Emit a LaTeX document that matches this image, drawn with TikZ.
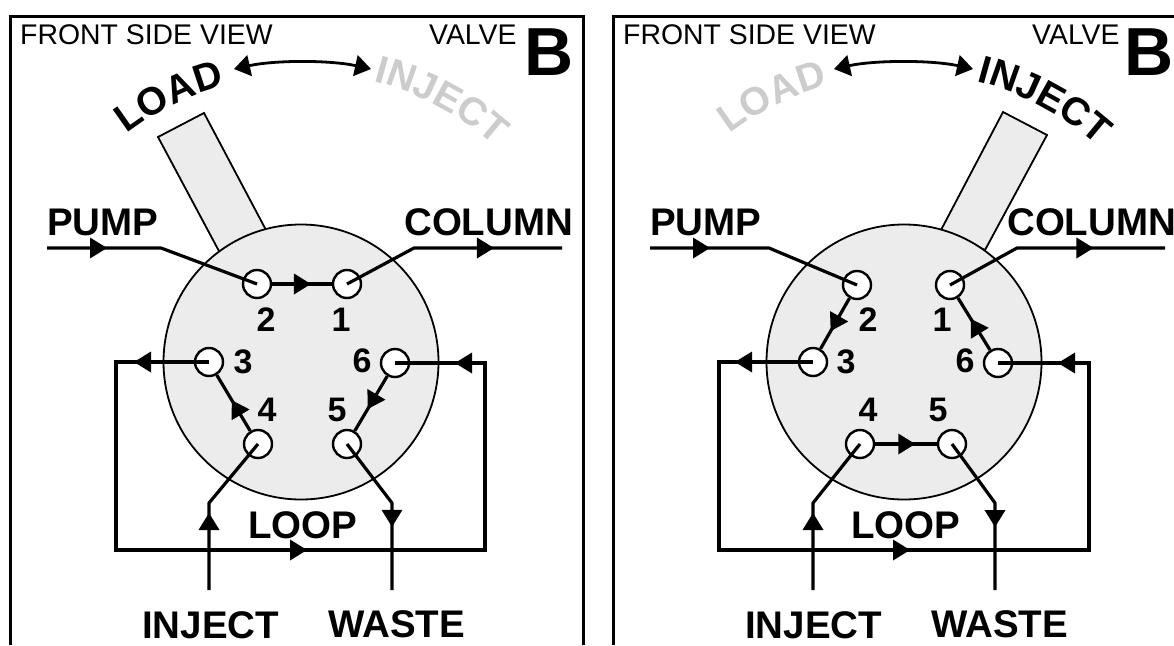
\documentclass[tikz,border=0pt]{standalone}
\usepackage{fontspec}
\setmainfont{Liberation Sans}
\usetikzlibrary{arrows.meta,decorations.markings,decorations.text}
\definecolor{valvefill}{HTML}{ECECEC}
\definecolor{ghost}{HTML}{CCCCCC}
\newcommand{\fsz}[1]{\fontsize{#1}{#1}\selectfont}
\tikzset{
  x=1pt,y=-1pt,
  frameline/.style={draw=black,line width=3pt,line join=miter},
  body/.style={draw=black,fill=valvefill,line width=1.8pt},
  port/.style={circle,draw=black,fill=white,line width=2.4pt,minimum size=28pt,inner sep=0pt},
  wire/.style={draw=black,line width=3.2pt,line join=round},
  flowtip/.style={postaction={decorate,decoration={markings,mark=at position #1 with {\arrow[line width=0pt]{Triangle[length=17pt,width=21pt]}}}}},
  swing/.style={draw=black,line width=2.8pt,{Triangle[length=16pt,width=21pt]}-{Triangle[length=16pt,width=21pt]}},
  thin label/.style={anchor=base west,inner sep=0pt,font=\fsz{28.4}},
  big label/.style={anchor=base west,inner sep=0pt,font=\fsz{38.5}\bfseries},
  letter/.style={anchor=base west,inner sep=0pt,font=\fsz{68}\bfseries},
  digit/.style={anchor=base,inner sep=0pt,font=\fsz{34}\bfseries},
}
\begin{document}
\begin{tikzpicture}
\useasboundingbox (0,0) rectangle (1174,645);
\fill[white] (0,0) rectangle (1174,645);
% ---------- left panel ----------
\coordinate (fa1) at (10,645); \coordinate (fa2) at (10,16); \coordinate (fa3) at (583,16); \coordinate (fa4) at (583,645);
\draw[frameline] (fa1) -- (fa2) -- (fa3) -- (fa4);
\node[thin label] (lfront) at (20,44) {FRONT SIDE VIEW};
\node[thin label] (lvalve) at (429,44) {VALVE};
\node[letter] (lb) at (524,75) {B};
\draw[body] (158,137) -- (204,113) -- (266,230) -- (220,253) -- cycle;
\node[circle,draw=black,fill=valvefill,line width=1.8pt,minimum size=275pt,inner sep=0pt] (lbody) at (301,362) {};
\coordinate (lc) at (301,362);
\path[decorate,decoration={text along path,text align=center,text={|\fsz{39}\bfseries|LOAD}}]
  (lc) ++(128.4:287pt) arc[start angle=128.4,end angle=104.4,radius=287pt];
\path[decorate,decoration={text along path,text align=center,text={|\fsz{39}\bfseries\color{ghost}|INJECT}}]
  (lc) ++(76:290pt) arc[start angle=76,end angle=47.5,radius=290pt];
\coordinate (lsa) at (234,69); \coordinate (lsb) at (371,69);
\draw[swing] (lsa) .. controls (275,60) and (330,60) .. (lsb);
\node[port] (l2) at (257,284) {}; \node[port] (l1) at (347,284) {};
\node[port] (l3) at (209,362) {}; \node[port] (l6) at (395,363) {};
\node[port] (l4) at (258,444) {}; \node[port] (l5) at (347,444) {};
\coordinate (lpa) at (47,248); \coordinate (lpb) at (161,248);
\draw[wire,flowtip=60pt] (lpa) -- (lpb) -- (l2.center);
\coordinate (lca) at (414,248); \coordinate (lcb) at (562,248);
\draw[wire,flowtip=156pt] (l1.center) -- (lca) -- (lcb);
\draw[wire,flowtip=0.65] (l2) -- (l1);
\coordinate (ll1) at (485,363); \coordinate (ll2) at (485,550); \coordinate (ll3) at (116,550); \coordinate (ll4) at (116,362);
\draw[wire,line join=miter,flowtip/.list={75pt,472pt,867pt}] (l3.center) -- (ll4) -- (ll3) -- (ll2) -- (ll1) -- (l6.center);
\draw[wire,flowtip=0.55] (l4) -- (l3);
\draw[wire,flowtip=0.6] (l6) -- (l5);
\coordinate (lia) at (209,590); \coordinate (lib) at (209,503);
\draw[wire,flowtip=77pt] (lia) -- (lib) -- (l4.center);
\coordinate (lwa) at (392,503); \coordinate (lwb) at (392,590);
\draw[wire,flowtip=98pt] (l5.center) -- (lwa) -- (lwb);
\node[big label] (lpump) at (47,235) {PUMP};
\node[big label] (lcol) at (404,235) {COLUMN};
\node[big label] (lloop) at (248,538) {LOOP};
\node[big label] (linj) at (142,638) {INJECT};
\node[big label] (lwaste) at (328,637) {WASTE};
\node[digit] (ld2) at (266,331) {2}; \node[digit] (ld1) at (341,331) {1};
\node[digit] (ld3) at (243,373) {3}; \node[digit] (ld6) at (362,372) {6};
\node[digit] (ld4) at (267,421) {4}; \node[digit] (ld5) at (337,421) {5};
% ---------- right panel ----------
\coordinate (fb1) at (613,645); \coordinate (fb2) at (613,16); \coordinate (fb3) at (1176,16);
\draw[frameline] (fb1) -- (fb2) -- (fb3);
\node[thin label] (rfront) at (623,44) {FRONT SIDE VIEW};
\node[thin label] (rvalve) at (1032,44) {VALVE};
\node[letter] (rb) at (1124,75) {B};
\draw[body] (1003,112) -- (1047,135) -- (985,250) -- (941,230) -- cycle;
\node[circle,draw=black,fill=valvefill,line width=1.8pt,minimum size=275pt,inner sep=0pt] (rbody) at (904,362) {};
\coordinate (rc) at (904,362);
\path[decorate,decoration={text along path,text align=center,text={|\fsz{39}\bfseries\color{ghost}|LOAD}}]
  (rc) ++(128.4:287pt) arc[start angle=128.4,end angle=104.4,radius=287pt];
\path[decorate,decoration={text along path,text align=center,text={|\fsz{39}\bfseries|INJECT}}]
  (rc) ++(76:290pt) arc[start angle=76,end angle=47.5,radius=290pt];
\coordinate (rsa) at (834,69); \coordinate (rsb) at (973,69);
\draw[swing] (rsa) .. controls (875,60) and (932,60) .. (rsb);
\node[port] (r2) at (857,285) {}; \node[port] (r1) at (950,285) {};
\node[port] (r3) at (813,362) {}; \node[port] (r6) at (998,363) {};
\node[port] (r4) at (860,444) {}; \node[port] (r5) at (952,444) {};
\coordinate (rpa) at (650,248); \coordinate (rpb) at (769,248);
\draw[wire,flowtip=60pt] (rpa) -- (rpb) -- (r2.center);
\coordinate (rca) at (1017,248); \coordinate (rcb) at (1165,248);
\draw[wire,flowtip=153pt] (r1.center) -- (rca) -- (rcb);
\draw[wire,flowtip=0.65] (r2) -- (r3);
\draw[wire,flowtip=0.6] (r6) -- (r1);
\draw[wire,flowtip=0.65] (r4) -- (r5);
\coordinate (rl1) at (1089,363); \coordinate (rl2) at (1089,550); \coordinate (rl3) at (719,550); \coordinate (rl4) at (719,362);
\draw[wire,line join=miter,flowtip/.list={78pt,473pt,870pt}] (r3.center) -- (rl4) -- (rl3) -- (rl2) -- (rl1) -- (r6.center);
\coordinate (ria) at (813,590); \coordinate (rib) at (813,503);
\draw[wire,flowtip=77pt] (ria) -- (rib) -- (r4.center);
\coordinate (rwa) at (995,503); \coordinate (rwb) at (995,590);
\draw[wire,flowtip=97pt] (r5.center) -- (rwa) -- (rwb);
\node[big label] (rpump) at (650,235) {PUMP};
\node[big label] (rcol) at (1007,235) {COLUMN};
\node[big label] (rloop) at (851,538) {LOOP};
\node[big label] (rinj) at (745,638) {INJECT};
\node[big label] (rwaste) at (931,637) {WASTE};
\node[digit] (rd2) at (868,331) {2}; \node[digit] (rd1) at (942,331) {1};
\node[digit] (rd3) at (846,373) {3}; \node[digit] (rd6) at (965,372) {6};
\node[digit] (rd4) at (868,421) {4}; \node[digit] (rd5) at (938,421) {5};
\end{tikzpicture}
\end{document}
